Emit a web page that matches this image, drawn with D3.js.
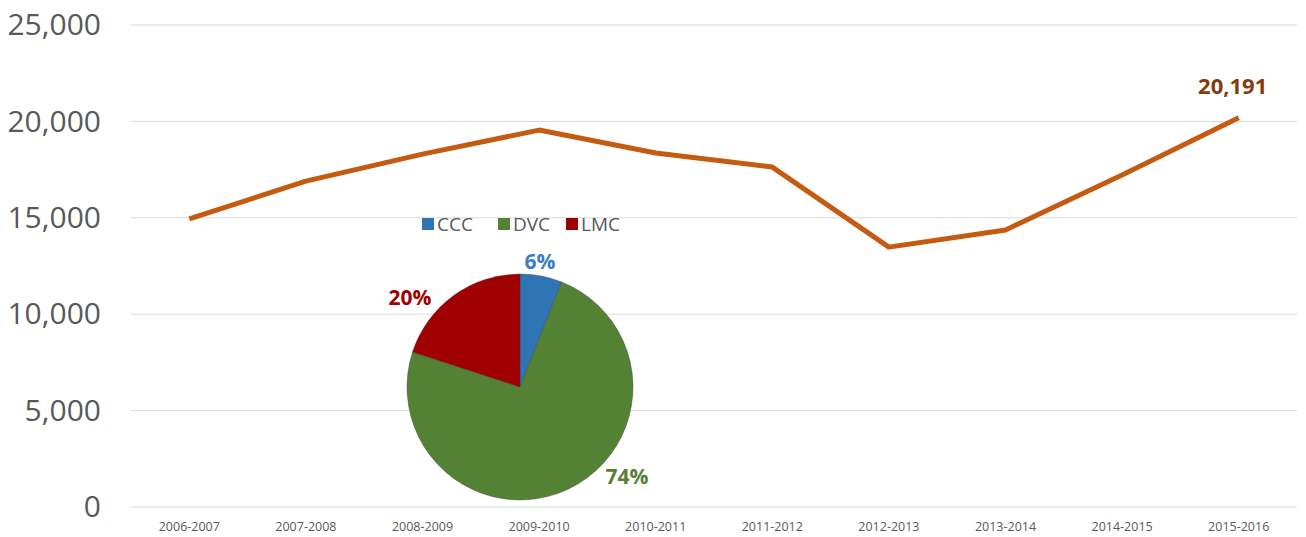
<!DOCTYPE html>
<html>
<head>
<meta charset="utf-8">
<script src="https://cdn.jsdelivr.net/npm/d3@7"></script>
<style>
  body { margin: 0; background: #fff; }
  svg { display: block; font-family: "Open Sans", sans-serif; }
</style>
</head>
<body>
<div id="viz"></div>
<script>
var years = ['2006-2007', '2007-2008', '2008-2009', '2009-2010', '2010-2011',
             '2011-2012', '2012-2013', '2013-2014', '2014-2015', '2015-2016'];
var enrollment = [14950, 16900, 18300, 19550, 18360, 17630, 13480, 14370, 17220, 20191];
var yTicks = [0, 5000, 10000, 15000, 20000, 25000];

var colleges = ['CCC', 'DVC', 'LMC'];
var shares = [6, 74, 20];
var collegeColors = ['#2E75B6', '#548235', '#A00000'];
var labelColors = ['#3C7DC4', '#548235', '#A00000'];

var width = 1306, height = 537;

var svg = d3.select('#viz').append('svg')
    .attr('width', width)
    .attr('height', height);

var xScale = d3.scaleBand()
    .domain(years)
    .range([131, 1297]);

var yScale = d3.scaleLinear()
    .domain([0, 25000])
    .range([507, 25]);

// gridlines
svg.append('g')
  .selectAll('line')
  .data(yTicks)
  .enter().append('line')
    .attr('x1', 131)
    .attr('x2', 1297)
    .attr('y1', function(d) { return yScale(d); })
    .attr('y2', function(d) { return yScale(d); })
    .style('stroke', '#d9d9d9')
    .style('stroke-width', 1);

// y axis
var yAxis = d3.axisLeft(yScale)
    .tickValues(yTicks)
    .tickFormat(d3.format(','))
    .tickSize(0)
    .tickPadding(0);

var yGuide = svg.append('g')
    .attr('transform', 'translate(101,0)')
    .call(yAxis);
yGuide.select('.domain').remove();
yGuide.selectAll('text')
    .style('font-size', '30px')
    .style('font-family', '"Open Sans", sans-serif')
    .style('fill', '#595959');

// x axis
var xAxis = d3.axisBottom(xScale).tickSize(0).tickPadding(0);
var xGuide = svg.append('g')
    .attr('transform', 'translate(0,522)')
    .call(xAxis);
xGuide.select('.domain').remove();
xGuide.selectAll('text')
    .style('font-size', '12.5px')
    .style('font-family', '"Open Sans", sans-serif')
    .style('fill', '#595959');

// line
var line = d3.line()
    .x(function(d, i) { return xScale(years[i]) + xScale.bandwidth() / 2; })
    .y(function(d) { return yScale(d); });

svg.append('path')
    .datum(enrollment)
    .attr('d', line)
    .style('fill', 'none')
    .style('stroke', '#C55A11')
    .style('stroke-width', 5)
    .style('stroke-linejoin', 'round');

// last value label
var last = enrollment.length - 1;
svg.append('text')
    .attr('x', xScale(years[last]) + xScale.bandwidth() / 2 - 6)
    .attr('y', yScale(enrollment[last]) - 24)
    .attr('text-anchor', 'middle')
    .style('font-size', '22px')
    .style('font-weight', 'bold')
    .style('fill', '#843C0C')
    .text(d3.format(',')(enrollment[last]));

// pie inset
var cx = 520, cy = 387, r = 113;
var pie = d3.pie().sort(null).value(function(d) { return d; });
var arc = d3.arc().innerRadius(0).outerRadius(r);
var arcs = pie(shares);

var pieG = svg.append('g')
    .attr('transform', 'translate(' + cx + ',' + cy + ')');

pieG.selectAll('path')
    .data(arcs)
  .enter().append('path')
    .attr('d', arc)
    .style('fill', function(d, i) { return collegeColors[i]; })
    .style('stroke', '#3d3d3d')
    .style('stroke-opacity', 0.5)
    .style('stroke-width', 0.8);

// label offsets per slice: CCC, DVC, LMC
var labelPos = [[20, -125], [107, 90], [-110, -89]];
pieG.selectAll('text')
    .data(arcs)
  .enter().append('text')
    .attr('x', function(d, i) { return labelPos[i][0]; })
    .attr('y', function(d, i) { return labelPos[i][1]; })
    .attr('text-anchor', 'middle')
    .attr('dy', '0.35em')
    .style('font-size', '21px')
    .style('font-weight', 'bold')
    .style('fill', function(d, i) { return labelColors[i]; })
    .text(function(d) { return d.data + '%'; });

// legend
var legendX = [422, 498, 566];
var legend = svg.append('g').selectAll('g')
    .data(colleges)
  .enter().append('g')
    .attr('transform', function(d, i) { return 'translate(' + legendX[i] + ',224)'; });

legend.append('rect')
    .attr('x', 0)
    .attr('y', -6)
    .attr('width', 12)
    .attr('height', 12)
    .style('fill', function(d, i) { return collegeColors[i]; });

legend.append('text')
    .attr('x', 15)
    .attr('y', 0)
    .attr('dy', '0.35em')
    .style('font-size', '19px')
    .style('fill', '#595959')
    .text(function(d) { return d; });
</script>
</body>
</html>
